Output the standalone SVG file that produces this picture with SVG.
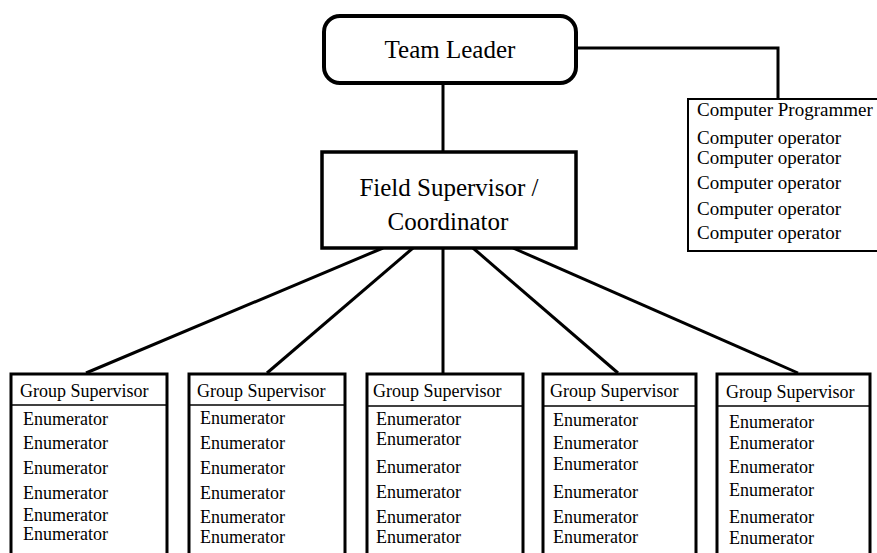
<svg xmlns="http://www.w3.org/2000/svg" width="877" height="553" viewBox="0 0 877 553">
<style>
text{font-family:"Liberation Serif","Times New Roman",serif;fill:#000}
.big{font-size:25px;text-anchor:middle}
.hdr{font-size:18px}
.en{font-size:18px}
.cp{font-size:19px}
.conn{stroke:#000;stroke-width:3;fill:none}
.gbox{fill:#fff;stroke:#000;stroke-width:3}
.sep{stroke:#000;stroke-width:1.5}
</style>
<rect width="877" height="553" fill="#fff"/>
<g id="connectors">
<line class="conn" x1="443" y1="84" x2="443" y2="151"/>
<polyline class="conn" points="577,48 778,48 778,99" stroke-width="2"/>
<line class="conn" x1="383" y1="248" x2="86" y2="373"/>
<line class="conn" x1="413" y1="248" x2="267" y2="373"/>
<line class="conn" x1="443" y1="248" x2="443" y2="373"/>
<line class="conn" x1="473" y1="248" x2="618" y2="373"/>
<line class="conn" x1="513" y1="248" x2="798" y2="373"/>
</g>
<g id="team-leader">
<rect x="324" y="16" width="252" height="67" rx="16" fill="#fff" stroke="#000" stroke-width="4"/>
<text class="big" x="450" y="58">Team Leader</text>
</g>
<g id="field-supervisor">
<rect x="322" y="152" width="254" height="96" fill="#fff" stroke="#000" stroke-width="3.5"/>
<text class="big" x="449" y="196" font-size="26">Field Supervisor /</text>
<text class="big" x="448" y="230" font-size="26">Coordinator</text>
</g>
<g id="computer-staff">
<path d="M880,99 L688,99 L688,251 L880,251" fill="#fff" stroke="#000" stroke-width="2"/>
<text class="cp" x="697" y="116">Computer Programmer</text>
<text class="cp" x="697" y="144">Computer operator</text>
<text class="cp" x="697" y="164">Computer operator</text>
<text class="cp" x="697" y="189">Computer operator</text>
<text class="cp" x="697" y="215">Computer operator</text>
<text class="cp" x="697" y="239">Computer operator</text>
</g>
<g id="group-1">
<path class="gbox" d="M11,556 L11,374 L167,374 L167,556"/>
<line class="sep" x1="11" y1="405" x2="167" y2="405"/>
<text class="hdr" x="20" y="397">Group Supervisor</text>
<text class="en" x="23" y="425">Enumerator</text>
<text class="en" x="23" y="449">Enumerator</text>
<text class="en" x="23" y="474">Enumerator</text>
<text class="en" x="23" y="499">Enumerator</text>
<text class="en" x="23" y="521">Enumerator</text>
<text class="en" x="23" y="540">Enumerator</text>
</g>
<g id="group-2">
<path class="gbox" d="M189,556 L189,374 L345,374 L345,556"/>
<line class="sep" x1="189" y1="405" x2="345" y2="405"/>
<text class="hdr" x="197" y="397">Group Supervisor</text>
<text class="en" x="200" y="424">Enumerator</text>
<text class="en" x="200" y="449">Enumerator</text>
<text class="en" x="200" y="474">Enumerator</text>
<text class="en" x="200" y="499">Enumerator</text>
<text class="en" x="200" y="523">Enumerator</text>
<text class="en" x="200" y="543">Enumerator</text>
</g>
<g id="group-3">
<path class="gbox" d="M367,556 L367,374 L523,374 L523,556"/>
<line class="sep" x1="367" y1="406" x2="523" y2="406"/>
<text class="hdr" x="373" y="397">Group Supervisor</text>
<text class="en" x="376" y="425">Enumerator</text>
<text class="en" x="376" y="445">Enumerator</text>
<text class="en" x="376" y="473">Enumerator</text>
<text class="en" x="376" y="498">Enumerator</text>
<text class="en" x="376" y="523">Enumerator</text>
<text class="en" x="376" y="543">Enumerator</text>
</g>
<g id="group-4">
<path class="gbox" d="M543,556 L543,374 L696,374 L696,556"/>
<line class="sep" x1="543" y1="406" x2="696" y2="406"/>
<text class="hdr" x="550" y="397">Group Supervisor</text>
<text class="en" x="553" y="426">Enumerator</text>
<text class="en" x="553" y="449">Enumerator</text>
<text class="en" x="553" y="470">Enumerator</text>
<text class="en" x="553" y="498">Enumerator</text>
<text class="en" x="553" y="523">Enumerator</text>
<text class="en" x="553" y="543">Enumerator</text>
</g>
<g id="group-5">
<path class="gbox" d="M717,556 L717,374 L870,374 L870,556"/>
<line class="sep" x1="717" y1="406" x2="870" y2="406"/>
<text class="hdr" x="726" y="398">Group Supervisor</text>
<text class="en" x="729" y="428">Enumerator</text>
<text class="en" x="729" y="449">Enumerator</text>
<text class="en" x="729" y="473">Enumerator</text>
<text class="en" x="729" y="496">Enumerator</text>
<text class="en" x="729" y="523">Enumerator</text>
<text class="en" x="729" y="544">Enumerator</text>
</g>
</svg>
